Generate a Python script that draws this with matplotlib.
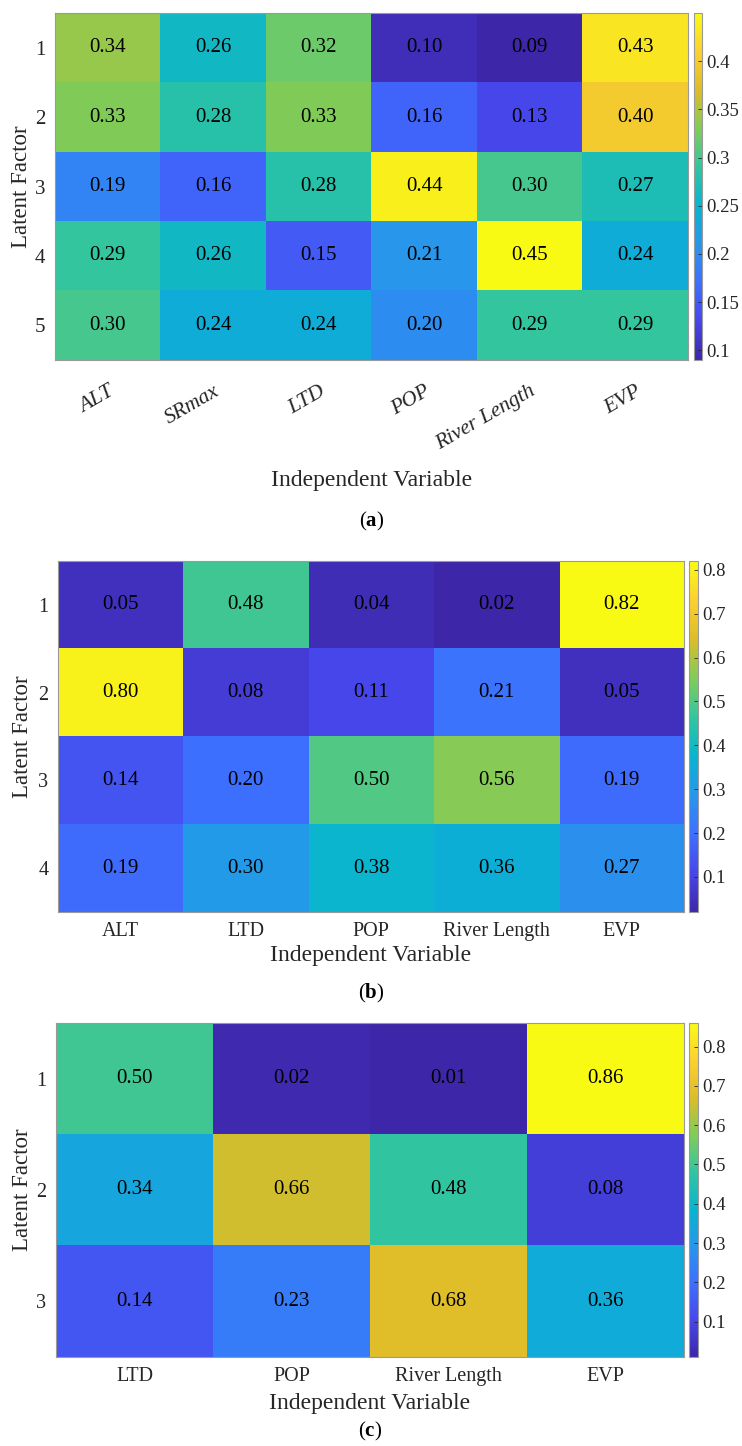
import numpy as np
import matplotlib
matplotlib.use("Agg")
import matplotlib.pyplot as plt
from matplotlib.colors import LinearSegmentedColormap

plt.rcParams['font.family'] = ['Liberation Serif', 'DejaVu Serif']
plt.rcParams['mathtext.fontset'] = 'custom'
plt.rcParams['mathtext.rm'] = 'Liberation Serif'
plt.rcParams['mathtext.bf'] = 'Liberation Serif:bold'

# ---------------- data ----------------
vars_a = ["ALT", "SRmax", "LTD", "POP", "River Length", "EVP"]
factors_a = ["1", "2", "3", "4", "5"]
values_a = [
    [0.34, 0.26, 0.32, 0.10, 0.09, 0.43],
    [0.33, 0.28, 0.33, 0.16, 0.13, 0.40],
    [0.19, 0.16, 0.28, 0.44, 0.30, 0.27],
    [0.29, 0.26, 0.15, 0.21, 0.45, 0.24],
    [0.30, 0.24, 0.24, 0.20, 0.29, 0.29],
]
cbar_ticks_a = [0.1, 0.15, 0.2, 0.25, 0.3, 0.35, 0.4]

vars_b = ["ALT", "LTD", "POP", "River Length", "EVP"]
factors_b = ["1", "2", "3", "4"]
values_b = [
    [0.05, 0.48, 0.04, 0.02, 0.82],
    [0.80, 0.08, 0.11, 0.21, 0.05],
    [0.14, 0.20, 0.50, 0.56, 0.19],
    [0.19, 0.30, 0.38, 0.36, 0.27],
]
cbar_ticks_b = [0.1, 0.2, 0.3, 0.4, 0.5, 0.6, 0.7, 0.8]

vars_c = ["LTD", "POP", "River Length", "EVP"]
factors_c = ["1", "2", "3"]
values_c = [
    [0.50, 0.02, 0.01, 0.86],
    [0.34, 0.66, 0.48, 0.08],
    [0.14, 0.23, 0.68, 0.36],
]
cbar_ticks_c = [0.1, 0.2, 0.3, 0.4, 0.5, 0.6, 0.7, 0.8]

panel_letters = ["a", "b", "c"]

# ---------------- parula-like colormap ----------------
parula_stops = [
    (0.2422, 0.1504, 0.6603),
    (0.2803, 0.2782, 0.9221),
    (0.2440, 0.4358, 0.9988),
    (0.1540, 0.5902, 0.9218),
    (0.0297, 0.7082, 0.8163),
    (0.1938, 0.7758, 0.6251),
    (0.5044, 0.7993, 0.3480),
    (0.8634, 0.7406, 0.1596),
    (0.9892, 0.8136, 0.1885),
    (0.9769, 0.9839, 0.0805),
]
parula = LinearSegmentedColormap.from_list("parula", parula_stops, N=256)

W, H = 742, 1446
fig = plt.figure(figsize=(W / 100, H / 100), dpi=100)


def rect(l, t, r, b):
    return [l / W, 1 - b / H, (r - l) / W, (b - t) / H]


def panel(vals, xlabels, ylabels, ticks, hm, cb, rotated, xl_y, letter_y,
          ylab_x, letter, tick_fs):
    data = np.array(vals)
    ax = fig.add_axes(rect(*hm))
    im = ax.imshow(data, cmap=parula, vmin=data.min(), vmax=data.max(),
                   aspect='auto', interpolation='nearest')
    for i in range(data.shape[0]):
        for j in range(data.shape[1]):
            ax.text(j, i, f"{data[i, j]:.2f}", ha='center', va='center',
                    fontsize=15, color='black')
    ax.set_xticks(range(len(xlabels)))
    ax.set_yticks(range(len(ylabels)))
    ax.set_yticklabels(ylabels, fontsize=tick_fs, color='#262626')
    if rotated:
        ax.set_xticklabels(xlabels, fontsize=15.5, rotation=30, ha='right',
                           rotation_mode='anchor', style='italic', color='#262626')
        ax.tick_params(axis='x', pad=16)
    else:
        ax.set_xticklabels(xlabels, fontsize=tick_fs, color='#262626')
        ax.tick_params(axis='x', pad=7)
    ax.tick_params(length=0)
    ax.tick_params(axis='y', pad=7)
    for s in ax.spines.values():
        s.set_color('#9a9a9a')
        s.set_linewidth(0.8)
    cx = (hm[0] + hm[2]) / 2 / W
    fig.text(cx, 1 - xl_y / H, "Independent Variable", ha='center', va='center',
             fontsize=17, color='#262626')
    fig.text(cx, 1 - letter_y / H, "(" + r"$\mathbf{" + letter + "}$" + ")",
             ha='center', va='center', fontsize=15, color='black')
    fig.text(ylab_x / W, 1 - ((hm[1] + hm[3]) / 2) / H, "Latent Factor",
             rotation=90, ha='center', va='center', fontsize=16.5, color='#262626')
    cax = fig.add_axes(rect(*cb))
    cbar = fig.colorbar(im, cax=cax)
    cbar.set_ticks(ticks)
    cbar.set_ticklabels([f"{t:g}" for t in ticks])
    cax.tick_params(labelsize=13.5, direction='in', length=3, width=0.6,
                    colors='#262626', pad=3)
    cbar.outline.set_edgecolor('#9a9a9a')
    cbar.outline.set_linewidth(0.8)
    return ax


panel(values_a, vars_a, factors_a, cbar_ticks_a, (55, 13, 688, 360),
      (694, 13, 702, 360), True, 481, 521, 22, panel_letters[0], 15)
panel(values_b, vars_b, factors_b, cbar_ticks_b, (58, 561, 684, 912),
      (689, 561, 698, 912), False, 956, 993, 23, panel_letters[1], 14.5)
panel(values_c, vars_c, factors_c, cbar_ticks_c, (56, 1023, 684, 1357),
      (689, 1023, 698, 1357), False, 1403, 1431, 23, panel_letters[2], 14.5)

fig.savefig("out.png", dpi=100)
